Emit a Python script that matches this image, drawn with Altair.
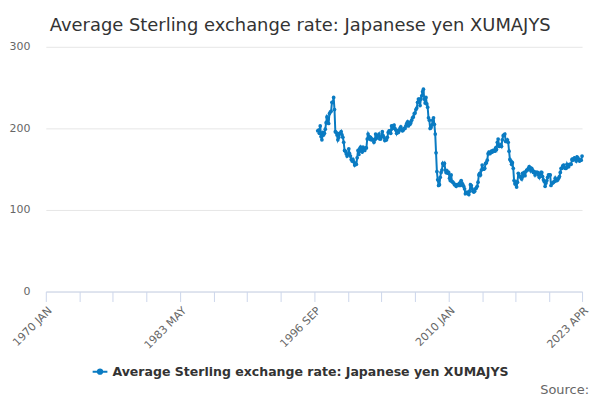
import altair as alt
import pandas as pd

TITLE = "Average Sterling exchange rate: Japanese yen XUMAJYS"
SERIES = "Average Sterling exchange rate: Japanese yen XUMAJYS"
COLOR = "#0a7bc2"
FONT = "DejaVu Sans"

values_by_year = {
    1997: [197, 198, 194, 203, 190, 186, 195, 192, 194, 199, 207, 214],
    1998: [212, 206, 218, 220, 221, 232, 232, 238, 223, 196, 195, 192],
    1999: [186, 189, 194, 194, 196, 192, 189, 183, 173, 172, 169, 166],
    2000: [168, 175, 169, 166, 162, 160, 162, 159, 155, 157, 156, 164],
    2001: [173, 168, 175, 177, 172, 171, 177, 174, 173, 176, 176, 187],
    2002: [193, 190, 187, 189, 186, 187, 186, 183, 186, 193, 188, 190],
    2003: [191, 193, 187, 187, 190, 196, 191, 189, 185, 186, 186, 189],
    2004: [195, 197, 197, 194, 203, 200, 203, 204, 200, 198, 194, 197],
    2005: [195, 197, 200, 202, 199, 197, 198, 200, 200, 203, 206, 208],
    2006: [203, 207, 205, 207, 210, 213, 214, 218, 219, 223, 225, 232],
    2007: [236, 236, 228, 236, 240, 245, 248, 236, 231, 238, 230, 226],
    2008: [213, 210, 200, 201, 204, 210, 213, 205, 193, 170, 147, 137],
    2009: [130, 131, 140, 146, 149, 157, 155, 157, 149, 146, 148, 145],
    2010: [146, 139, 136, 143, 135, 134, 133, 131, 131, 129, 131, 131],
    2011: [130, 133, 130, 136, 133, 131, 129, 126, 120, 121, 122, 121],
    2012: [119, 123, 131, 130, 126, 123, 122, 123, 126, 127, 129, 134],
    2013: [143, 145, 143, 149, 155, 150, 150, 151, 157, 158, 161, 169],
    2014: [171, 169, 170, 172, 171, 173, 173, 172, 176, 174, 183, 187],
    2015: [178, 178, 180, 178, 186, 191, 192, 193, 184, 184, 186, 183],
    2016: [172, 162, 160, 156, 158, 151, 136, 132, 134, 128, 134, 145],
    2017: [142, 141, 140, 138, 145, 142, 146, 142, 147, 149, 149, 151],
    2018: [153, 151, 148, 151, 149, 146, 147, 143, 146, 146, 146, 143],
    2019: [140, 144, 146, 146, 141, 137, 135, 129, 133, 136, 140, 143],
    2020: [143, 143, 130, 133, 133, 134, 135, 139, 136, 136, 137, 139],
    2021: [141, 146, 151, 151, 154, 155, 152, 151, 151, 156, 153, 153],
    2022: [156, 156, 156, 162, 161, 163, 164, 162, 160, 165, 164, 162],
    2023: [160, 161, 161, 166],
}

tick_labels = ["1970 JAN", "1983 MAY", "1996 SEP", "2010 JAN", "2023 APR"]
y_ticks = [0, 100, 200, 300]

rows = []
for yr, vals in values_by_year.items():
    for m, v in enumerate(vals):
        rows.append({"date": f"{yr}-{m+1:02d}-01", "value": v, "series": SERIES})
df = pd.DataFrame(rows)

# tick positions: every 40 months from 1970 JAN, last at 2023 APR
tick_dates = []
for k in range(16):
    mi = 40 * k
    tick_dates.append(alt.DateTime(year=1970 + mi // 12, month=mi % 12 + 1, date=1, utc=True))
tick_dates.append(alt.DateTime(year=2023, month=4, date=1, utc=True))

label_list = "[" + ",".join(f"'{t}'" for t in tick_labels) + "]"
label_expr = (
    f"indexof({label_list}, upper(utcFormat(datum.value, '%Y %b'))) >= 0 ? "
    "upper(utcFormat(datum.value, '%Y %b')) : ''"
)

x_enc = alt.X(
    "date:T",
    scale=alt.Scale(
        type="utc",
        domain=[alt.DateTime(year=1970, month=1, date=1, utc=True),
                alt.DateTime(year=2023, month=4, date=1, utc=True)],
    ),
    axis=alt.Axis(
        title=None,
        values=tick_dates,
        labelExpr=label_expr,
        labelAngle=-45,
        labelFontSize=11,
        labelColor="#666666",
        labelFont=FONT,
        labelPadding=3,
        domainColor="#ccd6eb",
        tickColor="#ccd6eb",
        tickSize=10,
        grid=False,
        labelOverlap=False,
    ),
)
y_enc = alt.Y(
    "value:Q",
    scale=alt.Scale(domain=[0, 300], nice=False),
    axis=alt.Axis(
        title=None,
        values=y_ticks,
        labelFontSize=11,
        labelColor="#666666",
        labelFont=FONT,
        labelPadding=16,
        domain=False,
        ticks=False,
        gridColor="#e6e6e6",
    ),
)

color_enc = alt.Color(
    "series:N",
    scale=alt.Scale(range=[COLOR]),
    legend=alt.Legend(
        title=None,
        orient="none",
        legendX=46,
        legendY=318,
        symbolType="M-1,0L1,0M0.3,0A0.3,0.3 0 1 1 -0.3,0A0.3,0.3 0 1 1 0.3,0",
        symbolSize=220,
        symbolStrokeWidth=2,
        labelFontSize=12.6,
        labelFontWeight="bold",
        labelColor="#333333",
        labelFont=FONT,
        labelLimit=500,
    ),
)

line = alt.Chart(df).mark_line(
    strokeWidth=2,
    point=alt.OverlayMarkDef(filled=True, size=14, color=COLOR),
).encode(x=x_enc, y=y_enc, color=color_enc)

source = alt.Chart(pd.DataFrame({"t": ["Source:"]})).mark_text(
    align="right", baseline="middle", fontSize=13, color="#666666", font=FONT
).encode(text="t:N", x=alt.value(546), y=alt.value(345))

chart = (
    alt.layer(line, source)
    .properties(
        width=539,
        height=246,
        padding={"left": 38, "top": 38, "right": 10, "bottom": 106},
        autosize=alt.AutoSizeParams(type="none"),
        title=alt.TitleParams(
            TITLE,
            anchor="start",
            frame="group",
            dx=4,
            offset=6,
            fontSize=18,
            fontWeight="normal",
            color="#333333",
            font=FONT,
        ),
    )
    .configure_view(stroke=None)
)

chart.save("out.html", embed_options={"renderer": "svg", "actions": False})
